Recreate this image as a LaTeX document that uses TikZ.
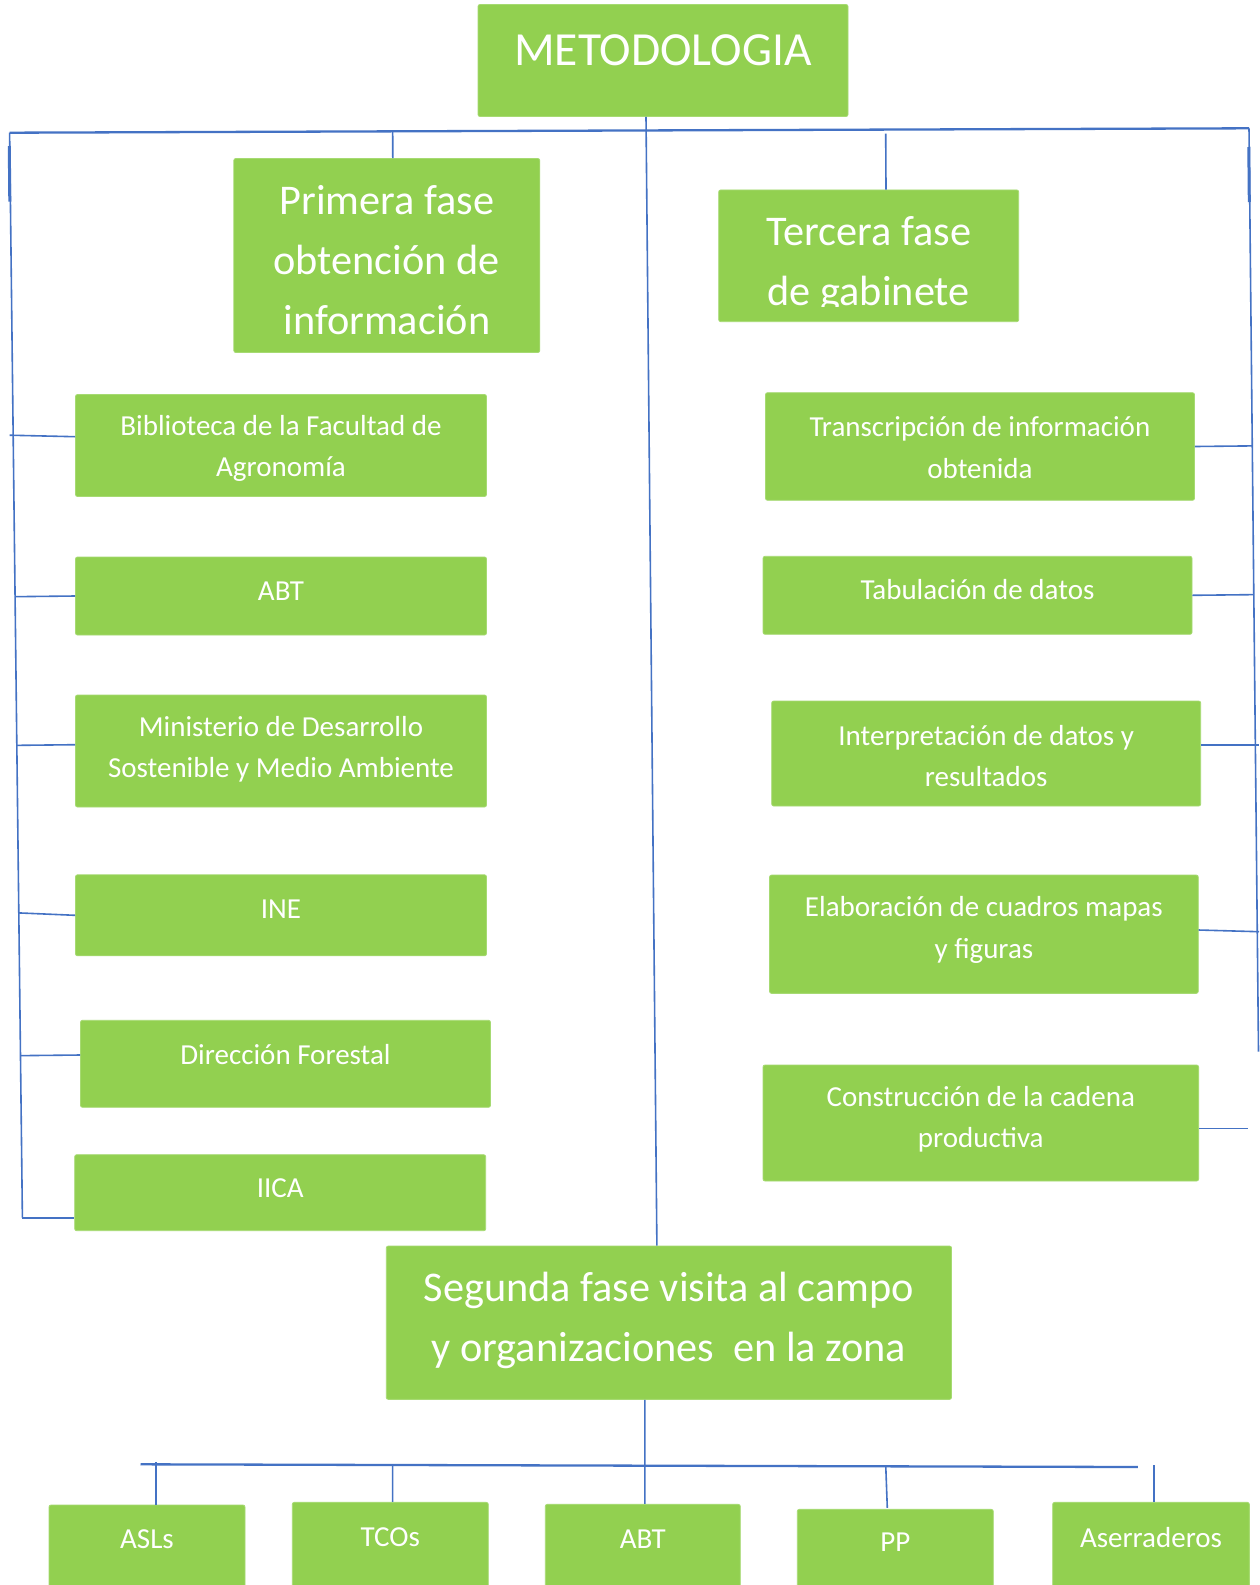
\documentclass[tikz,border=0pt]{standalone}
\usepackage{fontspec}
\setmainfont{Carlito}
\usetikzlibrary{calc}
\definecolor{boxgreen}{HTML}{92D050}
\definecolor{boxedge}{HTML}{A6DA72}
\definecolor{linkblue}{HTML}{4472C4}
\tikzset{
  box/.style={fill=boxgreen, draw=boxedge, line width=0.8pt, rounded corners=2pt, inner sep=0pt},
  lbl/.style={text=white, align=center, inner sep=0pt},
  huge/.style={font=\fontsize{47.5}{56}\selectfont},
  big/.style={font=\fontsize{42.3}{60}\selectfont},
  small/.style={font=\fontsize{29}{41.5}\selectfont},
  link/.style={draw=linkblue, line width=1.6pt},
  bus/.style={draw=linkblue, line width=2.3pt},
}
\begin{document}
\begin{tikzpicture}[x=1pt, y=-1pt]
\useasboundingbox[fill=white] (0,0) rectangle (1259,1585);

% top node
\node[box, minimum width=370pt, minimum height=112pt,
  label={[lbl, huge, yshift=10pt]center:METODOLOGIA}] (met) at (663,60.5) {};

% phase boxes
\node[box, minimum width=306pt, minimum height=194pt,
  label={[lbl, big, yshift=-5pt]center:Primera fase\\obtención de\\información}] (pri) at (386.8,255.5) {};
\node[box, minimum width=300pt, minimum height=131.7pt] (ter) at (868.7,255.8) {};
\begin{scope}
  \clip (718.7,190) rectangle (1018.7,306);
  \node[lbl, big] (terT) at (868.7,264.8) {Tercera fase\\de gabinete};
\end{scope}

% left column
\node[box, minimum width=411pt, minimum height=102pt,
  label={[lbl, small, yshift=-3pt]center:Biblioteca de la Facultad de\\Agronomía}] (L1) at (281,445.5) {};
\node[box, minimum width=411pt, minimum height=78pt,
  label={[lbl, small, yshift=4.5pt]center:ABT}] (L2) at (281,596) {};
\node[box, minimum width=411pt, minimum height=112pt,
  label={[lbl, small, yshift=1.5pt]center:Ministerio de Desarrollo\\Sostenible y Medio Ambiente}] (L3) at (281,751) {};
\node[box, minimum width=411pt, minimum height=81pt,
  label={[lbl, small, yshift=6pt]center:INE}] (L4) at (281,915.3) {};
\node[box, minimum width=410pt, minimum height=87pt,
  label={[lbl, small, yshift=9.5pt]center:Dirección Forestal}] (L5) at (285.5,1063.8) {};
\node[box, minimum width=411pt, minimum height=76pt,
  label={[lbl, small, yshift=4.4pt]center:IICA}] (L6) at (280.2,1192.7) {};

% right column
\node[box, minimum width=429pt, minimum height=107.6pt,
  label={[lbl, small, yshift=-1pt]center:Transcripción de información\\obtenida}] (R1) at (980,446.5) {};
\node[box, minimum width=429pt, minimum height=78pt,
  label={[lbl, small, yshift=5.3pt]center:Tabulación de datos}] (R2) at (977.5,595.3) {};
\node[box, minimum width=429pt, minimum height=105pt,
  label={[lbl, small, yshift=-2.3pt]center:Interpretación de datos y\\resultados}] (R3) at (986.2,753.5) {};
\node[box, minimum width=428.7pt, minimum height=118.3pt,
  label={[lbl, small, yshift=4.4pt]center:Elaboración de cuadros mapas\\y figuras}] (R4) at (983.9,934.2) {};
\node[box, minimum width=435.6pt, minimum height=116pt,
  label={[lbl, small, yshift=3.8pt]center:Construcción de la cadena\\productiva}] (R5) at (980.8,1123) {};

% second phase
\node[box, minimum width=565.3pt, minimum height=153.3pt,
  label={[lbl, big, yshift=1.9pt]center:Segunda fase visita al campo\\y organizaciones~ en la zona}] (seg) at (668.9,1322.7) {};

% bottom row
\node[box, minimum width=196pt, minimum height=95pt,
  label={[lbl, small, yshift=13.5pt]center:ASLs}] (B1) at (147,1552.5) {};
\node[box, minimum width=196pt, minimum height=97.7pt,
  label={[lbl, small, yshift=14.5pt]center:TCOs}] (B2) at (390.3,1551.2) {};
\node[box, minimum width=195pt, minimum height=95.7pt,
  label={[lbl, small, yshift=13.2pt]center:ABT}] (B3) at (642.8,1552.2) {};
\node[box, minimum width=196pt, minimum height=90.7pt,
  label={[lbl, small, yshift=13pt]center:PP}] (B4) at (895.3,1554.7) {};
\node[box, minimum width=196.7pt, minimum height=97.7pt,
  label={[lbl, small, yshift=13.5pt]center:Aserraderos}] (B5) at (1151,1551.2) {};

% frame coordinates
\coordinate (LT) at (9.6,132.7);
\coordinate (LB) at (22.4,1217.7);
\coordinate (RT) at (1249,128.3);
\coordinate (RB) at (1258.5,1051.7);
\coordinate (BL) at (140.5,1464.3);
\coordinate (BR) at (1137.8,1467);
\coordinate (r5end) at (1247.5,1128.3);
\coordinate (aseTop) at (1153.8,1465);

% top bus and side rails
\draw[bus] (LT) -- (RT);
\draw[link] (LT) -- (LB);
\draw[link] (RT) -- (RB);
\draw[linkblue, line width=3pt] (9.3,146) -- (9.8,201.7);
\draw[linkblue, line width=3pt] (1248.8,147) -- (1249.3,202);

% centre spine
\draw[link] ([xshift=-17pt]met.south) -- ([xshift=-12pt]seg.north);

% phase connectors
\draw[link] ($(LT)!([xshift=6pt]pri.north)!(RT)$) -- ([xshift=6pt]pri.north);
\draw[link] ($(LT)!([xshift=17.3pt]ter.north)!(RT)$) ++(0,4) -- ([xshift=17.3pt]ter.north);

% left stubs
\draw[link] ($(LT)!([yshift=11pt]L1.west)!(LB)$) ++(-3.5,0) -- ([yshift=8.8pt]L1.west);
\draw[link] ($(LT)!(L2.west)!(LB)$) -- (L2.west);
\draw[link] ($(LT)!([yshift=6.3pt]L3.west)!(LB)$) -- ([yshift=6.3pt]L3.west);
\draw[link] ($(LT)!([yshift=3pt]L4.west)!(LB)$) -- (L4.west);
\draw[link] ($(LT)!([yshift=8.8pt]L5.west)!(LB)$) -- ([yshift=8.8pt]L5.west);
\draw[link] (LB) -- (LB -| L6.west);

% right stubs
\draw[link] (R1.east) -- ($(RT)!(R1.east)!(RB)$);
\draw[link] (R2.east) -- ($(RT)!(R2.east)!(RB)$);
\draw[link] ([yshift=8.8pt]R3.east) -- ([yshift=8.8pt]R3.east -| 1259,0);
\draw[link] ([yshift=4.2pt]R4.east) -- ([yshift=2.5pt]R4.east -| 1259,0);
\draw[link] ([yshift=-5.3pt]R5.east) -- (r5end);

% bottom tree
\draw[link] ([xshift=-24pt]seg.south) -- ([xshift=2pt]B3.north);
\draw[bus] (BL) -- (BR);
\draw[link] ([xshift=8.8pt]B1.north) -- ++(0,-42.3);
\draw[link] ($(BL)!([xshift=2.3pt]B2.north)!(BR)$) -- ([xshift=2.3pt]B2.north);
\draw[link] ($(BL)!([xshift=-9.6pt]B4.north)!(BR)$) -- ([xshift=-8pt,yshift=1pt]B4.north);
\draw[link] (aseTop) -- ([xshift=2.8pt]B5.north);
\end{tikzpicture}
\end{document}
